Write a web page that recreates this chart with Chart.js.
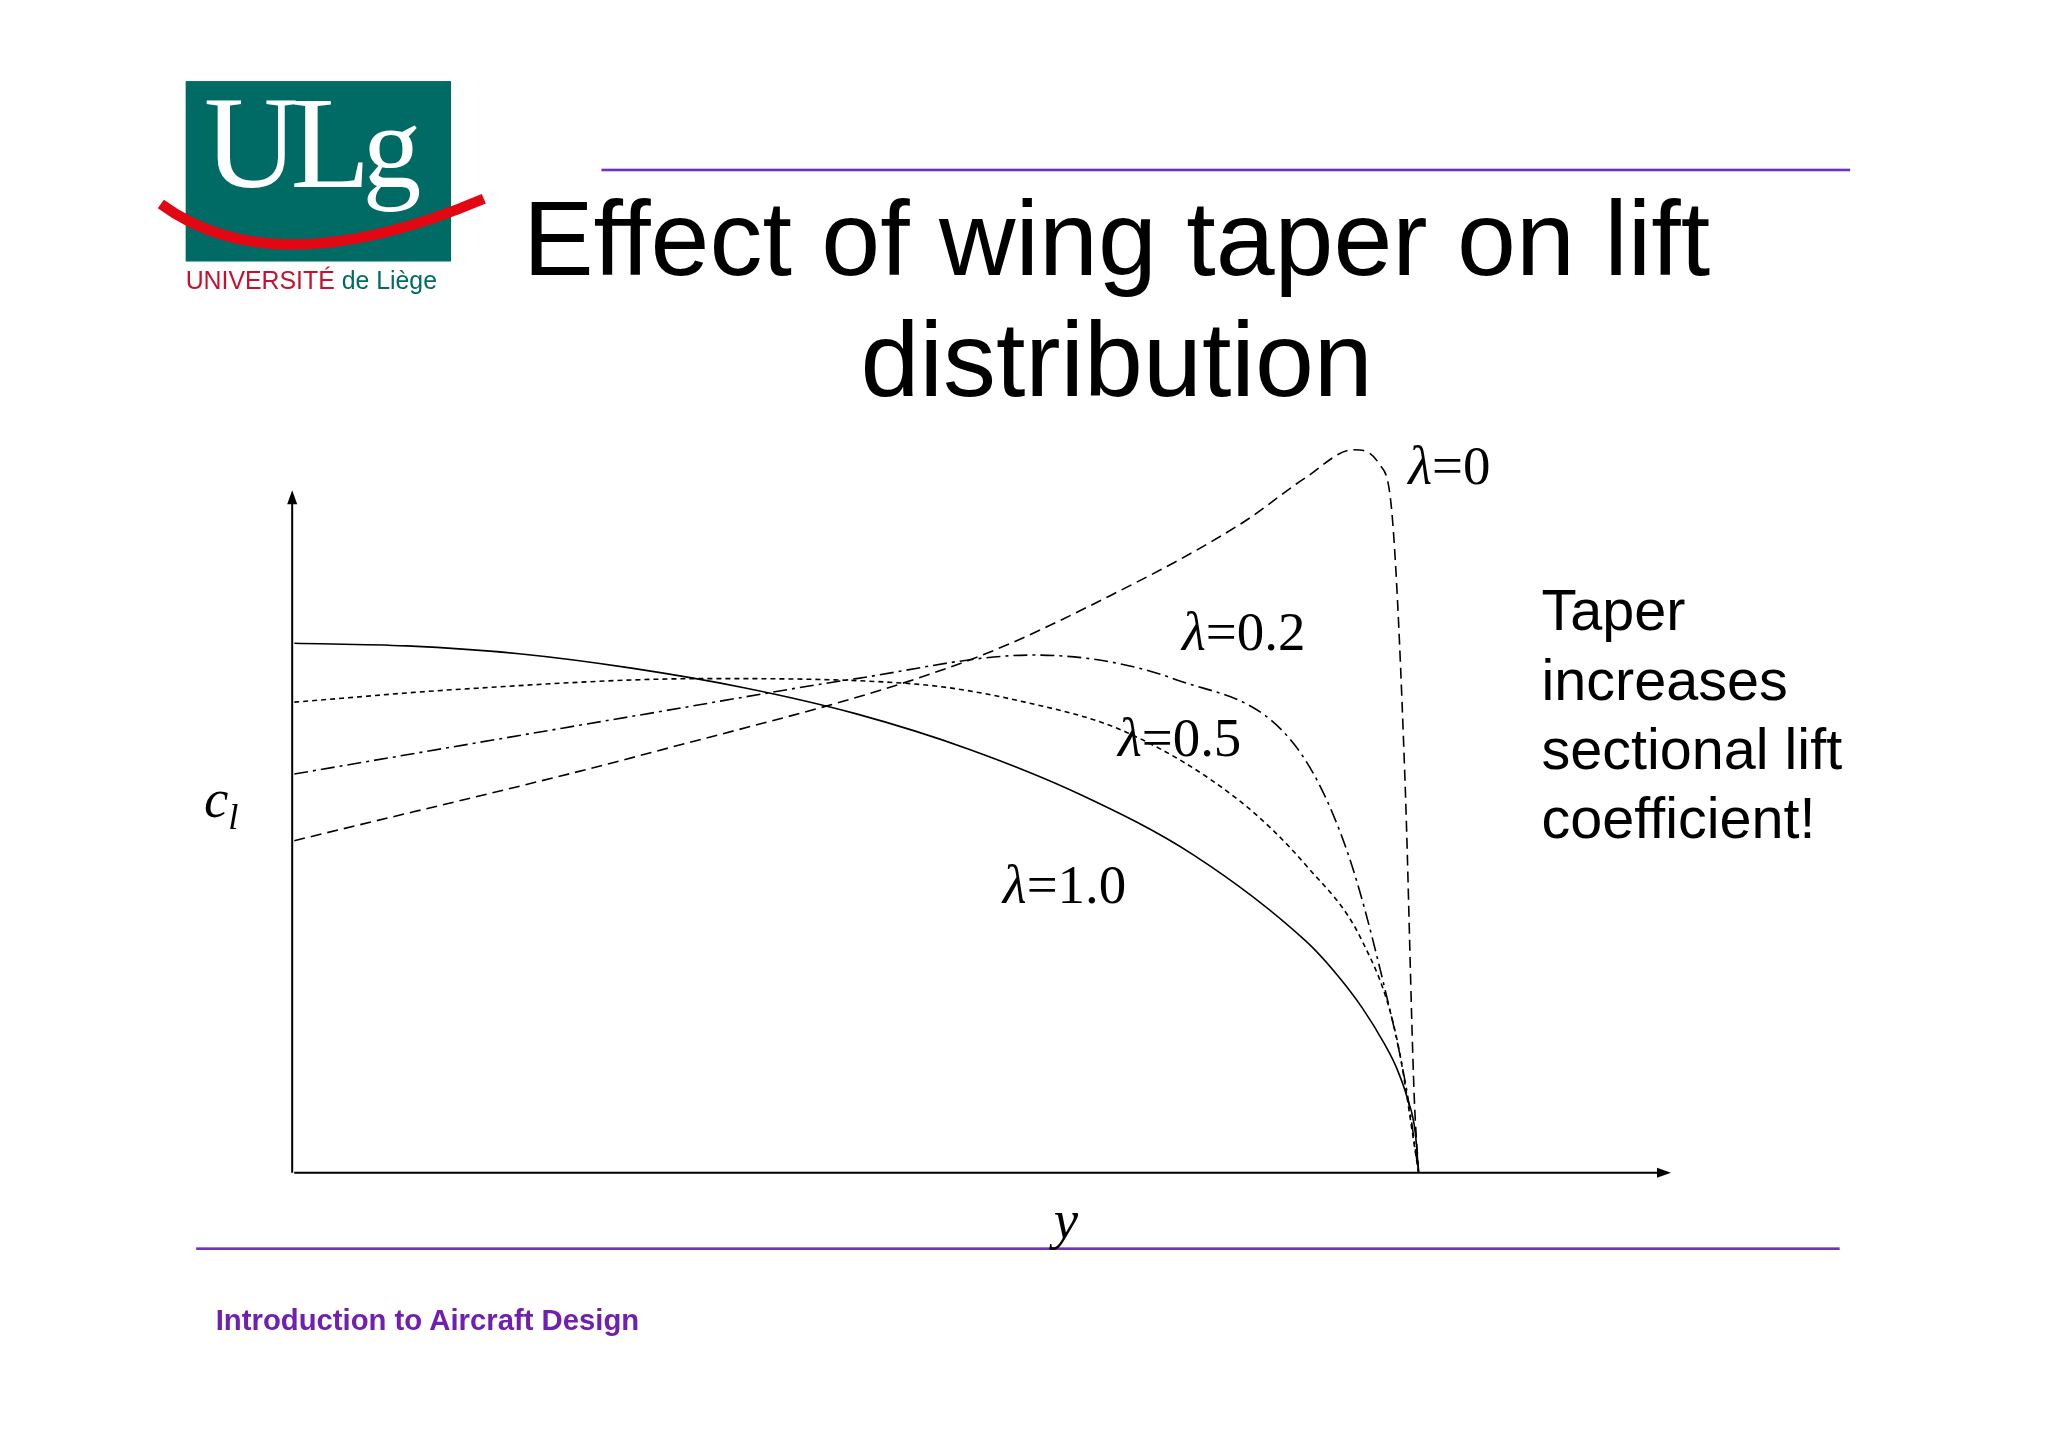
<!DOCTYPE html>
<html>
<head>
<meta charset="utf-8">
<script src="https://cdn.jsdelivr.net/npm/chart.js@4/dist/chart.umd.min.js"></script>
<style>
  html, body { margin: 0; padding: 0; background: #fff; }
  body { width: 2048px; height: 1447px; position: relative; overflow: hidden; }
  #c { position: absolute; left: 0; top: 0; width: 2048px; height: 1447px; }
  #over { position: absolute; left: 0; top: 0; width: 1567px; height: 1107px; transform: scale(1.3075); transform-origin: 0 0; font-family: "Liberation Sans", Arial, sans-serif; }
  .abs { position: absolute; white-space: nowrap; }
  .lam { font-family: "Liberation Serif", "Times New Roman", serif; font-size: 42px; line-height: 1; }
  .lam i { font-style: italic; }
</style>
</head>
<body>
<canvas id="c" width="2048" height="1447"></canvas>
<div id="over">
  <div class="abs" style="left:142px;top:62px;width:203px;height:138px;background:#006a64;"></div>
  <div class="abs" style="left:156px;top:52px;font-family:'Liberation Serif',serif;font-size:100px;color:#fff;letter-spacing:-6px;">UL<span style="font-size:90px">g</span></div>
  <svg class="abs" style="left:120px;top:140px" width="260" height="70"><path d="M3 16 Q90 80 250 12" stroke="#e30613" stroke-width="8" fill="none"/></svg>
  <div class="abs" style="left:142px;top:204px;font-size:19px;color:#c8102e;">UNIVERSITÉ <span style="color:#006a64">de Liège</span></div>
  <div class="abs" style="left:460px;top:129px;width:955px;height:2px;background:#7030c0;"></div>
  <div class="abs" style="left:150px;top:954px;width:1257px;height:2px;background:#7030c0;"></div>
  <div class="abs" style="left:354px;top:136px;width:1000px;text-align:center;font-size:81px;line-height:93px;">Effect of wing taper on lift<br>distribution</div>
  <div class="abs" style="left:1179px;top:440px;font-size:44px;line-height:53px;">Taper<br>increases<br>sectional lift<br>coefficient!</div>
  <div class="abs" style="left:165px;top:997px;font-size:22.4px;font-weight:bold;color:#7020b0;">Introduction to Aircraft Design</div>
  <div class="abs lam" style="left:1077px;top:335px;"><i>λ</i>=0</div>
  <div class="abs lam" style="left:904px;top:462px;"><i>λ</i>=0.2</div>
  <div class="abs lam" style="left:855px;top:543px;"><i>λ</i>=0.5</div>
  <div class="abs lam" style="left:767px;top:656px;"><i>λ</i>=1.0</div>
  <div class="abs lam" style="left:156px;top:590px;"><i>c<sub style="font-size:28px">l</sub></i></div>
  <div class="abs lam" style="left:806px;top:912px;"><i>y</i></div>
</div>
<script>
const s = 1.3075;
// spanwise station y (0 = root, 1 = tip) and c_l
const x10 = [0, 0.1, 0.2, 0.3, 0.4, 0.5, 0.6, 0.7, 0.8, 0.9, 0.925, 0.95, 0.97, 0.98, 0.99, 0.997, 1.0];
const cl10 = [4.05, 4.03, 3.97, 3.86, 3.71, 3.51, 3.24, 2.89, 2.43, 1.77, 1.54, 1.26, 0.98, 0.81, 0.57, 0.31, 0];
const x05 = [0, 0.15, 0.366, 0.55, 0.65, 0.74, 0.84, 0.9, 0.95, 0.98, 1.0];
const cl05 = [3.60, 3.70, 3.78, 3.74, 3.60, 3.37, 2.85, 2.35, 1.77, 1.05, 0];
const x02 = [0, 0.32, 0.5, 0.657, 0.785, 0.89, 0.936, 0.971, 0.99, 1.0];
const cl02 = [3.05, 3.52, 3.78, 3.96, 3.77, 3.27, 2.47, 1.37, 0.6, 0];
const x00 = [0, 0.32, 0.6, 0.727, 0.843, 0.9, 0.942, 0.965, 0.977, 0.988, 0.996, 1.0];
const cl00 = [2.54, 3.22, 3.92, 4.42, 4.97, 5.32, 5.53, 5.42, 4.97, 2.97, 0.6, 0];

const pts = (xs, ys) => xs.map((v, i) => ({ x: v, y: ys[i] }));
const line = (xs, ys, dash) => ({
  data: pts(xs, ys), borderColor: '#000', borderWidth: 1.6, borderDash: dash,
  pointRadius: 0, cubicInterpolationMode: 'monotone', fill: false
});

const axes = {
  id: 'axes',
  afterDraw(chart) {
    const { ctx, scales: { x, y } } = chart;
    const x0 = x.getPixelForValue(0), y0 = y.getPixelForValue(0);
    const yTop = 375 * s, xEnd = 1278 * s;
    ctx.save();
    ctx.strokeStyle = '#000'; ctx.fillStyle = '#000'; ctx.lineWidth = 2;
    ctx.beginPath();
    ctx.moveTo(x0 - 2, y0); ctx.lineTo(x0 - 2, yTop + 8);
    ctx.moveTo(x0, y0); ctx.lineTo(xEnd - 10, y0);
    ctx.stroke();
    ctx.beginPath();
    ctx.moveTo(x0 - 2, yTop); ctx.lineTo(x0 - 7, yTop + 14); ctx.lineTo(x0 + 3, yTop + 14); ctx.fill();
    ctx.beginPath();
    ctx.moveTo(xEnd, y0); ctx.lineTo(xEnd - 14, y0 - 5); ctx.lineTo(xEnd - 14, y0 + 5); ctx.fill();
    ctx.restore();
  }
};

new Chart(document.getElementById('c'), {
  type: 'line',
  data: {
    datasets: [
      line(x10, cl10, []),
      line(x05, cl05, [5, 4]),
      line(x02, cl02, [14, 5, 3, 5]),
      line(x00, cl00, [11, 6])
    ]
  },
  options: {
    responsive: false, animation: false, devicePixelRatio: 1,
    layout: { padding: { left: 225 * s, right: 2048 - 1278 * s, top: 337 * s, bottom: 1447 - 897 * s } },
    plugins: { legend: { display: false }, tooltip: { enabled: false } },
    scales: {
      x: { type: 'linear', min: 0, max: 1053 / 860, display: false },
      y: { min: 0, max: 5.6, display: false }
    }
  },
  plugins: [axes]
});
</script>
</body>
</html>
